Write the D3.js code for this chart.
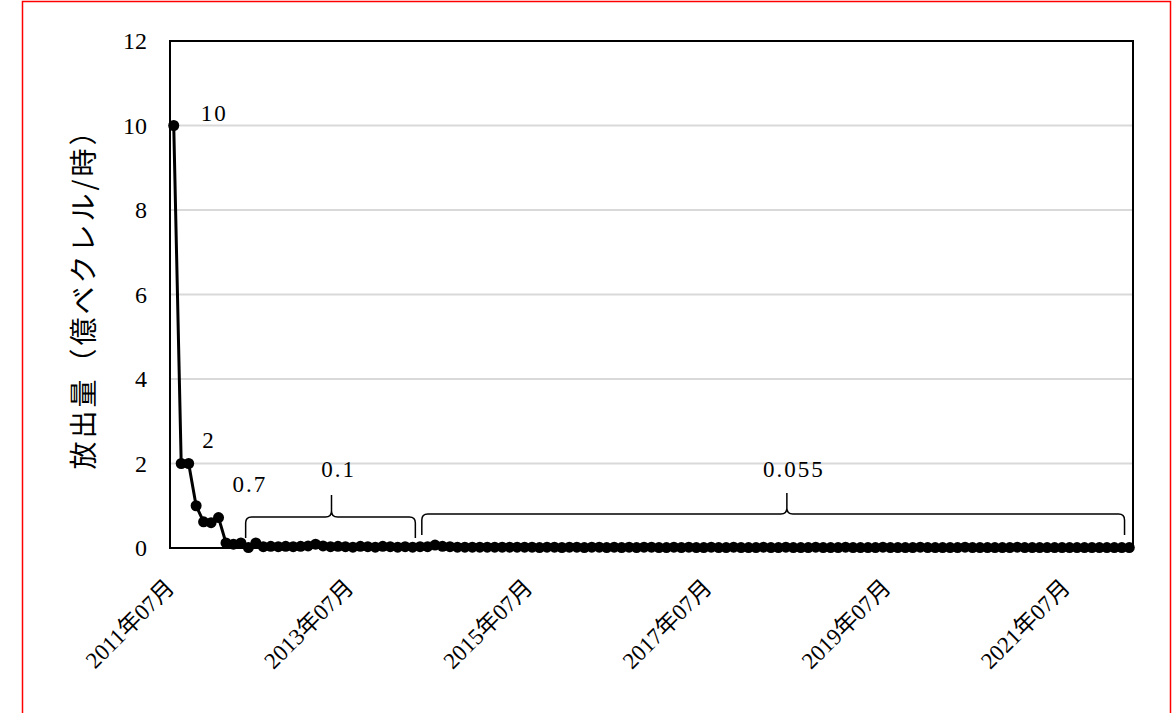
<!DOCTYPE html>
<html>
<head>
<meta charset="utf-8">
<script src="https://cdn.jsdelivr.net/npm/d3@7"></script>
<style>
	body { margin: 0; background: #fff; }
	svg { display: block; }
	.tick-label { font-family: "Liberation Serif", "DejaVu Serif", "Noto Sans CJK JP", serif; fill: #000; }
	.y-title { font-family: "Noto Sans CJK JP", sans-serif; fill: #000; }
	.grid line { stroke: #d9d9d9; stroke-width: 2; }
	.brace { fill: none; stroke: #000; stroke-width: 1.5; }
</style>
</head>
<body>
<svg id="chart"></svg>
<script>
// monthly values from 2011-07 to 2022-03 (億ベクレル/時)
var startMonth = "2011-07";
var values = [
	10, 2, 2, 1, 0.62, 0.6, 0.72, 0.12, 0.09, 0.12, 0.01, 0.12,
	0.03, 0.04, 0.03, 0.04, 0.03, 0.04, 0.05, 0.09, 0.05, 0.03, 0.04, 0.03,
	0.02, 0.04, 0.03, 0.02, 0.04, 0.03, 0.02, 0.03, 0.02, 0.03, 0.03, 0.07,
	0.04, 0.03, 0.02, 0.02, 0.02, 0.02, 0.02, 0.02, 0.02, 0.02, 0.02, 0.02,
	0.02, 0.01, 0.02, 0.02, 0.01, 0.02, 0.02, 0.01, 0.02, 0.02, 0.01, 0.02,
	0.01, 0.02, 0.01, 0.02, 0.02, 0.01, 0.01, 0.02, 0.01, 0.02, 0.01, 0.01,
	0.02, 0.01, 0.01, 0.02, 0.01, 0.01, 0.01, 0.02, 0.01, 0.01, 0.02, 0.01,
	0.01, 0.01, 0.02, 0.01, 0.01, 0.01, 0.02, 0.01, 0.01, 0.01, 0.01, 0.02,
	0.01, 0.01, 0.01, 0.01, 0.02, 0.01, 0.01, 0.01, 0.01, 0.01, 0.02, 0.01,
	0.01, 0.01, 0.01, 0.01, 0.01, 0.02, 0.01, 0.01, 0.01, 0.01, 0.01, 0.01,
	0.01, 0.01, 0.01, 0.01, 0.01, 0.01, 0.01, 0.01, 0.01
];
var xTickLabels = ["2011年07月", "2013年07月", "2015年07月", "2017年07月", "2019年07月", "2021年07月"];
var yTicks = [0, 2, 4, 6, 8, 10, 12];
var yTitle = "放出量（億ベクレル/時）";
// point labels: [month index, text]
var pointLabels = [[0, "10"], [1, "2"], [6, "0.7"]];
// braces: [first month, peak month, last month, text]
var braceRanges = [["2012-05", "2013-04", "2014-03", "0.1"], ["2014-05", "2018-05", "2022-02", "0.055"]];

window.onload = function() {
	var W = 1172, H = 713;
	var plot = {left: 170, right: 1133, top: 41, bottom: 548};

	var svg = d3.select("#chart").attr("width", W).attr("height", H);

	var parseMonth = d3.timeParse("%Y-%m");
	var start = parseMonth(startMonth);
	var data = values.map(function(v, i) {
		return {i: i, date: d3.timeMonth.offset(start, i), value: v};
	});
	var indexOf = function(m) { return d3.timeMonth.count(start, parseMonth(m)); };

	var x = d3.scaleBand().domain(data.map(function(d) { return d.i; }))
		.range([plot.left, plot.right]).padding(0);
	var bw = x.bandwidth();
	var cx = function(i) { return x(i) + bw / 2; };
	var y = d3.scaleLinear().domain([0, 12]).range([plot.bottom, plot.top]);

	// outer red frame
	svg.append("rect")
		.attr("x", 22.5).attr("y", 1.5)
		.attr("width", W - 24).attr("height", H + 20)
		.attr("fill", "none").attr("stroke", "#ff0000").attr("stroke-width", 1.5);

	// gridlines
	svg.append("g").attr("class", "grid")
		.selectAll("line")
		.data(yTicks.filter(function(t) { return t > 0 && t < 12; }))
		.enter().append("line")
			.attr("x1", plot.left).attr("x2", plot.right)
			.attr("y1", function(d) { return y(d); })
			.attr("y2", function(d) { return y(d); });

	// plot frame
	svg.append("rect")
		.attr("x", plot.left).attr("y", plot.top)
		.attr("width", plot.right - plot.left).attr("height", plot.bottom - plot.top)
		.attr("fill", "none").attr("stroke", "#000").attr("stroke-width", 2);

	// y axis labels
	svg.append("g").selectAll("text")
		.data(yTicks)
		.enter().append("text")
			.attr("class", "tick-label")
			.attr("x", 147)
			.attr("y", function(d) { return y(d); })
			.attr("dy", "0.35em")
			.attr("text-anchor", "end")
			.style("font-size", "24px")
			.text(function(d) { return d; });

	// x axis labels (every 24 months)
	svg.append("g").selectAll("text")
		.data(xTickLabels)
		.enter().append("text")
			.attr("class", "tick-label")
			.attr("text-anchor", "end")
			.attr("transform", function(d, k) {
				return "translate(" + (cx(k * 24) + 2) + "," + (plot.bottom + 41) + ") rotate(-45)";
			})
			.style("font-size", "23px")
			.text(function(d) { return d; });

	// y title
	svg.append("text")
		.attr("class", "y-title")
		.attr("transform", "translate(" + 94 + "," + 292 + ") rotate(-90)")
		.attr("text-anchor", "middle")
		.style("font-size", "28px")
		.style("letter-spacing", "3px")
		.text(yTitle);

	// line
	var line = d3.line()
		.x(function(d) { return cx(d.i); })
		.y(function(d) { return y(d.value); });

	svg.append("path")
		.datum(data)
		.attr("fill", "none")
		.attr("stroke", "#000")
		.attr("stroke-width", 3)
		.attr("d", line);

	svg.append("g").selectAll("circle")
		.data(data)
		.enter().append("circle")
			.attr("cx", function(d) { return cx(d.i); })
			.attr("cy", function(d) { return y(d.value); })
			.attr("r", 5.5)
			.attr("fill", "#000");

	// point labels
	var labelOffsets = {0: [27, -5], 1: [21, -16], 6: [14, -26]};
	svg.append("g").selectAll("text")
		.data(pointLabels)
		.enter().append("text")
			.attr("class", "tick-label")
			.attr("x", function(d) { return cx(d[0]) + labelOffsets[d[0]][0]; })
			.attr("y", function(d) { return y(values[d[0]]) + labelOffsets[d[0]][1]; })
			.style("font-size", "23px")
			.style("letter-spacing", "2px")
			.text(function(d) { return d[1]; });

	// braces
	var braces = braceRanges.map(function(b, k) {
		var x1 = x(indexOf(b[0])) + (k === 0 ? 1 : -2), x2 = x(indexOf(b[2])) + bw - 1;
		var xm = cx(indexOf(b[1])) + 1;
		var y0 = k === 0 ? 517 : 514, yEnd = k === 0 ? 538 : 535, yPeak = k === 0 ? 495 : 493;
		return {x1: x1, x2: x2, xm: xm, y0: y0, yEnd: yEnd, yPeak: yPeak, text: b[3]};
	});

	svg.append("g").selectAll("path")
		.data(braces)
		.enter().append("path")
			.attr("class", "brace")
			.attr("d", function(b) {
				var r = 6;
				return "M" + b.x1 + "," + b.yEnd +
					"L" + b.x1 + "," + (b.y0 + r) +
					"Q" + b.x1 + "," + b.y0 + " " + (b.x1 + r) + "," + b.y0 +
					"L" + (b.xm - r) + "," + b.y0 +
					"Q" + b.xm + "," + b.y0 + " " + b.xm + "," + (b.y0 - r) +
					"L" + b.xm + "," + b.yPeak +
					"M" + b.xm + "," + (b.y0 - r) +
					"Q" + b.xm + "," + b.y0 + " " + (b.xm + r) + "," + b.y0 +
					"L" + (b.x2 - r) + "," + b.y0 +
					"Q" + b.x2 + "," + b.y0 + " " + b.x2 + "," + (b.y0 + r) +
					"L" + b.x2 + "," + b.yEnd;
			});

	svg.append("g").selectAll("text")
		.data(braces)
		.enter().append("text")
			.attr("class", "tick-label")
			.attr("x", function(b) { return b.xm + 7; })
			.attr("y", 477)
			.attr("text-anchor", "middle")
			.style("font-size", "23px")
			.style("letter-spacing", "2px")
			.text(function(b) { return b.text; });
};
</script>
</body>
</html>
